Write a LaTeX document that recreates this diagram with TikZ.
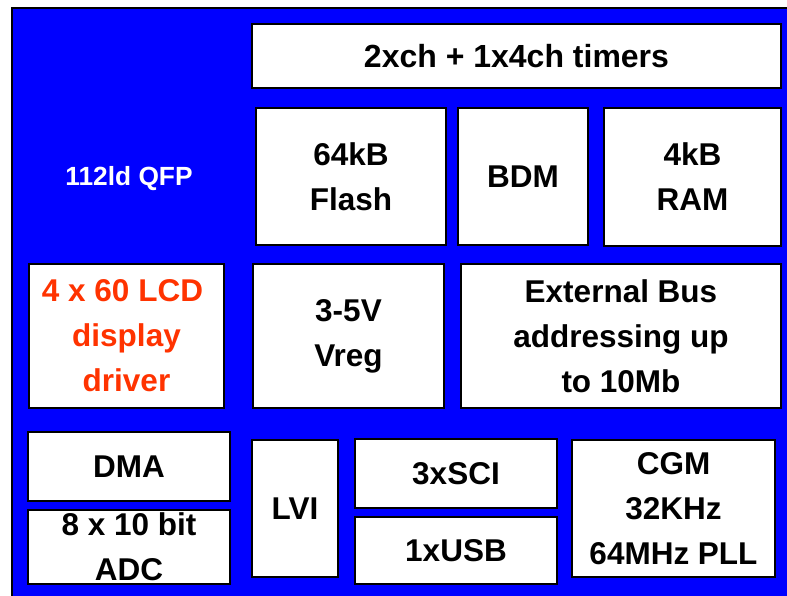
\documentclass[tikz,border=0pt]{standalone}
\usepackage{fontspec}
\setmainfont{Liberation Sans}
\definecolor{chipblue}{HTML}{0000FF}
\definecolor{lcdred}{HTML}{FF3300}
\begin{document}
\begin{tikzpicture}[x=1pt,y=-1pt,
  blk/.style={draw=black, line width=1.8pt, fill=white, inner sep=0pt,
    align=center, font=\fontsize{31.5}{45}\selectfont\bfseries, text=black},
  lbl/.style={inner sep=0pt, font=\fontsize{26.3}{30}\selectfont\bfseries, text=white}]
\clip (0,0) rectangle (787,596);
\draw[line width=2pt, fill=chipblue] (12,8) rectangle (800,610);
\node[lbl] (pkg) at (129,179) {112ld QFP};
\node[blk, minimum width=529pt, minimum height=64pt, font=\fontsize{32}{45}\selectfont\bfseries] (timers) at (516.5,56) {2xch + 1x4ch timers};
\node[blk, minimum width=190pt, minimum height=137pt] (flash) at (351,176.5) {64kB\\Flash};
\node[blk, minimum width=130pt, minimum height=137pt] (bdm) at (523,176.5) {BDM};
\node[blk, minimum width=177pt, minimum height=138pt] (ram) at (692.5,177) {4kB\\RAM};
\node[blk, minimum width=195pt, minimum height=144pt, text=lcdred] (lcd) at (126.5,336) {4 x 60 LCD\makebox[8pt]{}\\display\\driver};
\node[blk, minimum width=191pt, minimum height=144pt] (vreg) at (348.5,336) {3-5V\\Vreg};
\node[blk, minimum width=320pt, minimum height=144pt] (bus) at (621,336) {External Bus\\addressing up\\to 10Mb};
\node[blk, minimum width=202pt, minimum height=69pt] (dma) at (129,466.5) {DMA};
\node[blk, minimum width=202pt, minimum height=74pt] (adc) at (129,547) {8 x 10 bit\\ADC};
\node[blk, minimum width=86pt, minimum height=137pt] (lvi) at (295,508.5) {LVI};
\node[blk, minimum width=202pt, minimum height=69pt] (sci) at (456,473.5) {3xSCI};
\node[blk, minimum width=202pt, minimum height=67pt] (usb) at (456,550.5) {1xUSB};
\node[blk, minimum width=203pt, minimum height=137pt] (cgm) at (673.5,508.5) {CGM\\32KHz\\64MHz PLL};
\end{tikzpicture}
\end{document}
